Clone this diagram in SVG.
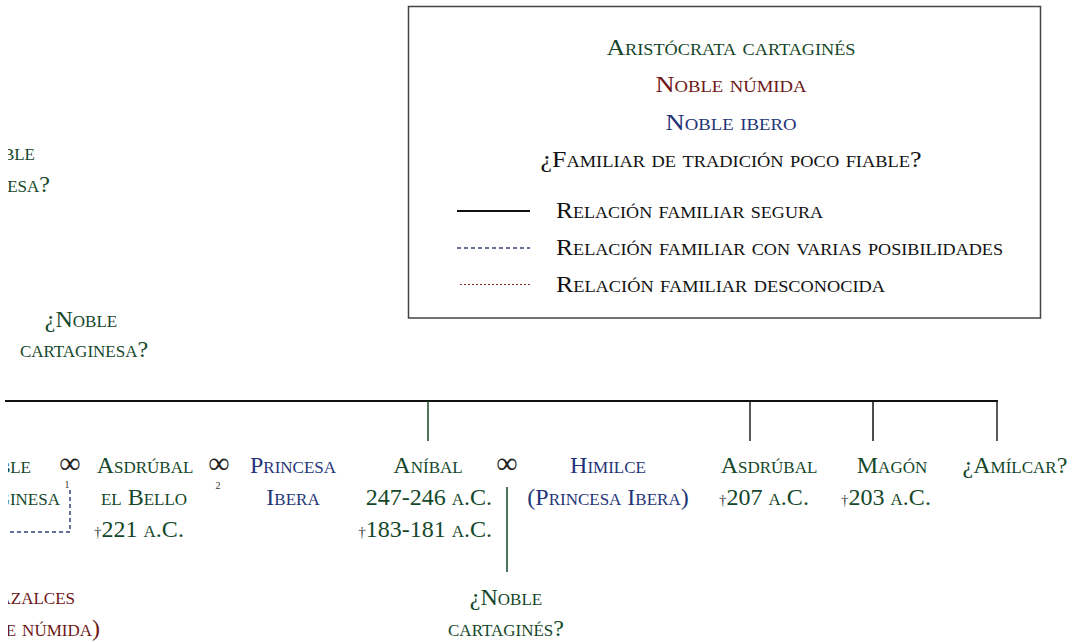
<svg xmlns="http://www.w3.org/2000/svg" width="1074" height="642" viewBox="0 0 1074 642">
<style>
text{font-family:"Liberation Serif","DejaVu Serif",serif;font-size:24px;font-variant:small-caps;text-anchor:middle}
.g{fill:#14472a}.r{fill:#6e1818}.b{fill:#1f3578}.k{fill:#111}
.dag{font-size:15px;fill:#444}
.m{font-family:"Liberation Serif",serif;font-variant:normal;font-size:30px;fill:#222}
.sub{font-size:10px;font-variant:normal;fill:#333}
.l{text-anchor:start}
.e{text-anchor:end}
.solid{stroke:#111;stroke-width:2;fill:none}
.dash{stroke:#34417e;stroke-width:1.5;stroke-dasharray:4,3;fill:none}
.dot{stroke:#8a2a2a;stroke-width:1;stroke-dasharray:2,2;fill:none}
</style>
<defs>
<clipPath id="leftclip"><rect x="8" y="0" width="300" height="642"/></clipPath>
</defs>
<g id="legend">
<rect x="408.5" y="6.5" width="632" height="311.5" fill="#fff" stroke="#444" stroke-width="1.5"/>
<text class="g" x="731" y="55" textLength="249" lengthAdjust="spacingAndGlyphs">Aristócrata cartaginés</text>
<text class="r" x="731" y="92" textLength="151" lengthAdjust="spacingAndGlyphs">Noble númida</text>
<text class="b" x="731" y="130" textLength="131" lengthAdjust="spacingAndGlyphs">Noble ibero</text>
<text class="k" x="731" y="167" textLength="381" lengthAdjust="spacingAndGlyphs">¿Familiar de tradición poco fiable?</text>
<line class="solid" x1="457" y1="211" x2="530" y2="211"/>
<line class="dash" x1="457" y1="248" x2="530" y2="248"/>
<line class="dot" x1="460" y1="284.5" x2="530" y2="284.5"/>
<text class="k l" x="556" y="218" textLength="267" lengthAdjust="spacingAndGlyphs">Relación familiar segura</text>
<text class="k l" x="556" y="255" textLength="447" lengthAdjust="spacingAndGlyphs">Relación familiar con varias posibilidades</text>
<text class="k l" x="556" y="292" textLength="329" lengthAdjust="spacingAndGlyphs">Relación familiar desconocida</text>
</g>
<g id="connectors">
<line class="solid" x1="5" y1="401" x2="998" y2="401"/>
<line x1="428" y1="401" x2="428" y2="441" stroke="#14472a" stroke-width="1.5"/>
<line x1="750" y1="401" x2="750" y2="441" stroke="#222" stroke-width="1.5"/>
<line x1="873" y1="401" x2="873" y2="441" stroke="#111" stroke-width="1.5"/>
<line x1="997" y1="401" x2="997" y2="441" stroke="#222" stroke-width="1.5"/>
<line x1="507" y1="487" x2="507" y2="572" stroke="#14472a" stroke-width="1.5"/>
<path class="dash" d="M70 490 V532 H10"/>
<text class="m" x="70" y="473">∞</text>
<text class="sub" x="67" y="488">1</text>
<text class="m" x="219" y="473">∞</text>
<text class="sub" x="218" y="489">2</text>
<text class="m" x="507" y="473">∞</text>
</g>
<g id="n-topleft" clip-path="url(#leftclip)">
<text class="g e" x="35" y="160">¿Noble</text>
<text class="g e" x="50" y="192">cartaginesa?</text>
</g>
<g id="n-noble-cartaginesa">
<text class="g" x="81" y="327">¿Noble</text>
<text class="g" x="84" y="357">cartaginesa?</text>
</g>
<g id="n-left" clip-path="url(#leftclip)">
<text class="g e" x="31" y="473">Noble</text>
<text class="g e" x="60" y="505">cartaginesa</text>
</g>
<g id="n-asdrubal-bello">
<text class="g" x="145" y="473">Asdrúbal</text>
<text class="g" x="144" y="505">el Bello</text>
<text class="g" x="139" y="537"><tspan class="dag">†</tspan>221 a.C.</text>
</g>
<g id="n-princesa">
<text class="b" x="293" y="473">Princesa</text>
<text class="b" x="293" y="505">Ibera</text>
</g>
<g id="n-anibal">
<text class="g" x="428" y="473">Aníbal</text>
<text class="g e" x="492" y="505">247-246 a.C.</text>
<text class="g e" x="492" y="537"><tspan class="dag">†</tspan>183-181 a.C.</text>
</g>
<g id="n-himilce">
<text class="b" x="608" y="473">Himilce</text>
<text class="b" x="608" y="505">(Princesa Ibera)</text>
</g>
<g id="n-noble-cartagines">
<text class="g" x="506" y="605">¿Noble</text>
<text class="g" x="506" y="636">cartaginés?</text>
</g>
<g id="n-asdrubal">
<text class="g" x="769" y="473">Asdrúbal</text>
<text class="g" x="764" y="505"><tspan class="dag">†</tspan>207 a.C.</text>
</g>
<g id="n-magon">
<text class="g" x="892" y="473">Magón</text>
<text class="g" x="886" y="505"><tspan class="dag">†</tspan>203 a.C.</text>
</g>
<g id="n-amilcar">
<text class="g" x="1015" y="473">¿Amílcar?</text>
</g>
<g id="n-mazalces" clip-path="url(#leftclip)">
<text class="r e" x="75" y="604">Mazalces</text>
<text class="r e" x="100" y="636">(Noble númida)</text>
</g>
</svg>
